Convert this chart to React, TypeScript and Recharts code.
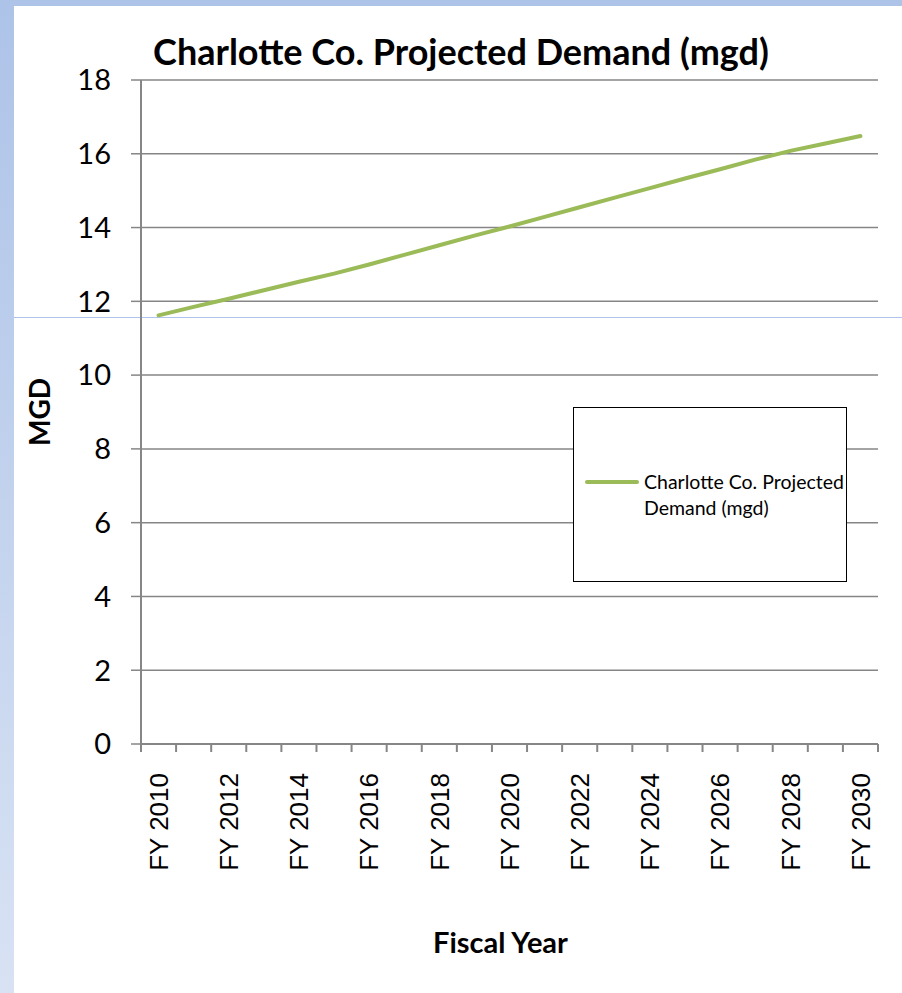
import { LineChart, Line, XAxis, YAxis, CartesianGrid, Legend } from 'recharts';

const years = [2010, 2011, 2012, 2013, 2014, 2015, 2016, 2017, 2018, 2019, 2020, 2021, 2022, 2023, 2024, 2025, 2026, 2027, 2028, 2029, 2030];
const demand = [11.62, 11.85, 12.07, 12.3, 12.53, 12.75, 13.0, 13.26, 13.52, 13.78, 14.03, 14.29, 14.55, 14.81, 15.07, 15.33, 15.58, 15.84, 16.08, 16.28, 16.48];
const labelYears = [2010, 2012, 2014, 2016, 2018, 2020, 2022, 2024, 2026, 2028, 2030];
const yTicks = [0, 2, 4, 6, 8, 10, 12, 14, 16, 18];
const boundaryTicks = [...years.map(y => y - 0.5), 2030.5];

const seriesName = 'Charlotte Co. Projected Demand (mgd)';
const data = years.map((year, i) => ({ year, demand: demand[i] }));

const GRID = '#868686';
const GREEN = '#9bbb59';

function YearTick({ x, y, payload }: any) {
    return (
        <text x={x} y={y} transform={`rotate(-90, ${x}, ${y})`} textAnchor="end" dy="0.36em" fontFamily="'Liberation Sans', Arial, sans-serif" fontSize={26} fill="#000">
            FY {payload.value}
        </text>
    );
}

// boundary axis only needs its tick marks, no text
function NoLabel() {
    return <g />;
}

function LegendBox({ payload }: any) {
    const item = payload?.[0];
    if (!item) return null;
    return (
        <div style={{ boxSizing: 'border-box', width: 274, height: 175, border: '1.5px solid #000', background: '#fff', display: 'flex', alignItems: 'center', paddingLeft: 11 }}>
            <div style={{ display: 'flex', alignItems: 'flex-start' }}>
                <div style={{ width: 54, height: 4, background: item.color, borderRadius: 2, marginTop: 11, marginRight: 5 }} />
                <div style={{ width: 204, fontFamily: 'Lato, sans-serif', fontSize: 19.5, lineHeight: '26px', color: '#000' }}>{item.value}</div>
            </div>
        </div>
    );
}

export default function App() {
    return (
        <div style={{ position: 'fixed', top: 0, left: 0, width: 902, height: 993, background: '#fff', overflow: 'hidden' }}>
            <div style={{ position: 'absolute', top: 0, left: 0, width: 902, height: 6, background: '#adc3e8' }} />
            <div style={{ position: 'absolute', top: 0, left: 0, width: 14, height: 993, background: 'linear-gradient(#adc3e8, #d8e2f3)' }} />
            <div style={{ position: 'absolute', top: 317, left: 14, width: 888, height: 1, background: '#aec4ee' }} />
            <div style={{ position: 'absolute', top: 29, left: 17, width: 888, textAlign: 'center', fontFamily: 'Lato, sans-serif', fontWeight: 700, fontSize: 36, lineHeight: '44px', color: '#000' }}>
                {seriesName}
            </div>
            <LineChart width={902} height={993} data={data} margin={{ top: 80, right: 24, bottom: 33, left: 14 }} style={{ position: 'absolute', top: 0, left: 0 }}>
                <CartesianGrid xAxisId="year" vertical={false} stroke={GRID} strokeWidth={1.5} />
                <XAxis xAxisId="grid" type="number" dataKey="year" domain={[2009.5, 2030.5]} ticks={boundaryTicks} interval={0} tick={<NoLabel />} tickSize={8} height={1}
                    axisLine={{ stroke: GRID, strokeWidth: 2 }} tickLine={{ stroke: GRID, strokeWidth: 2 }} allowDataOverflow />
                <XAxis xAxisId="year" type="number" dataKey="year" domain={[2009.5, 2030.5]} ticks={labelYears} interval={0} axisLine={false} tickLine={false}
                    tickMargin={22} height={215} tick={<YearTick />} allowDataOverflow
                    label={{ value: 'Fiscal Year', position: 'insideBottom', offset: 7, dx: -9, style: { fontFamily: 'Lato, sans-serif', fontWeight: 700, fontSize: 29, fill: '#000' } }} />
                <YAxis domain={[0, 18]} ticks={yTicks} width={127} tickSize={10} tickMargin={20}
                    axisLine={{ stroke: GRID, strokeWidth: 2 }} tickLine={{ stroke: GRID, strokeWidth: 1.5 }}
                    tick={{ fontFamily: 'Lato, sans-serif', fontSize: 29, fill: '#000' }}
                    label={{ value: 'MGD', angle: -90, position: 'insideLeft', offset: 26, textAnchor: 'middle', style: { fontFamily: 'Lato, sans-serif', fontWeight: 700, fontSize: 28, fill: '#000' } }} />
                <Legend layout="vertical" align="center" verticalAlign="middle" content={<LegendBox />} wrapperStyle={{ position: 'absolute', left: 573, top: 407, width: 274, height: 175 }} />
                <Line xAxisId="year" type="linear" dataKey="demand" name={seriesName} stroke={GREEN} strokeWidth={4} strokeLinecap="round" dot={false} activeDot={false} isAnimationActive={false} />
            </LineChart>
        </div>
    );
}
